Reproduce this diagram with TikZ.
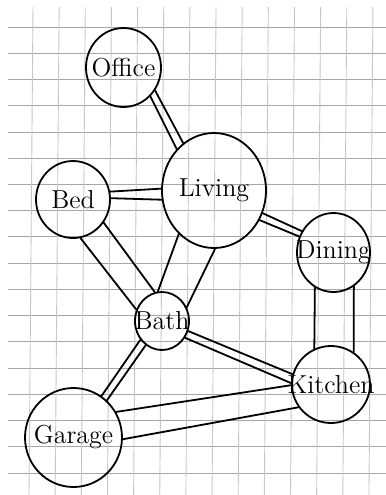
\documentclass[tikz,border=0pt]{standalone}
\usetikzlibrary{shapes.geometric}

\begin{document}
\begin{tikzpicture}[x=0.5pt,y=-0.5pt,
	room/.style={draw, ellipse, line width=0.9pt, inner sep=0pt,
		label={[font=\fontsize{13}{15}\selectfont]center:#1}},
	wall/.style={line width=0.9pt, line cap=round},
	hline/.style={gray!70, line width=0.45pt},
	vline/.style={gray!45, line width=0.45pt}]
	\useasboundingbox (0,0) rectangle (386,495);
	
	\def\gx{26.15}
	\def\gy{26.24}
	
	% paper
	\foreach \k in {0,...,17}
		\draw[hline] (8,27+\k*\gy) -- (386,27+\k*\gy);
	\foreach \k in {0,...,13}
		\draw[vline] (33+\k*\gx,7) -- (29+\k*\gx,495);
	
	% rooms
	\node[room=Office, minimum width=37.5pt, minimum height=39.5pt] (O) at (123.5,67.5) {};
	\node[room=Living, minimum width=52pt, minimum height=57.5pt] (L) at (214,190.5) {};
	\node[room=Bed, minimum width=37pt, minimum height=38.5pt] (B) at (73,199.5) {};
	\node[room=Dining, minimum width=36.5pt, minimum height=39.5pt] (D) at (333.5,252.5) {};
	\node[room=Bath, minimum width=27pt, minimum height=29pt] (Ba) at (162,321) {};
	\node[room=Kitchen, minimum width=39pt, minimum height=38.5pt] (K) at (331,384.5) {};
	\node[room=Garage, minimum width=48.5pt, minimum height=49.5pt] (G) at (73.5,437.5) {};
	
	% halls
	\draw[wall] (O.-47) -- (L.132);
	\draw[wall] (O.-36) -- (L.123);
	
	\draw[wall] (B.12) -- (L.178);
	\draw[wall] (B.2) -- (L.-170);
	
	\draw[wall] (L.-25) -- (D.146);
	\draw[wall] (L.-33) -- (D.155);
	
	\draw[wall] (L.-129) -- (Ba.98);
	\draw[wall] (L.-89) -- (Ba.29);
	
	\draw[wall] (B.-37) -- (Ba.104);
	\draw[wall] (B.-79) -- (Ba.156);
	
	\draw[wall] (D.-118) -- (K.115);
	\draw[wall] (D.-59) -- (K.55);
	
	\draw[wall] (Ba.-21) -- (K.165);
	\draw[wall] (Ba.-36) -- (K.178);
	
	\draw[wall] (Ba.-139) -- (G.56);
	\draw[wall] (Ba.-124) -- (G.48);
	
	\draw[wall] (G.31) -- (K.181);
	\draw[wall] (G.-2) -- (K.-145);
\end{tikzpicture}
\end{document}
